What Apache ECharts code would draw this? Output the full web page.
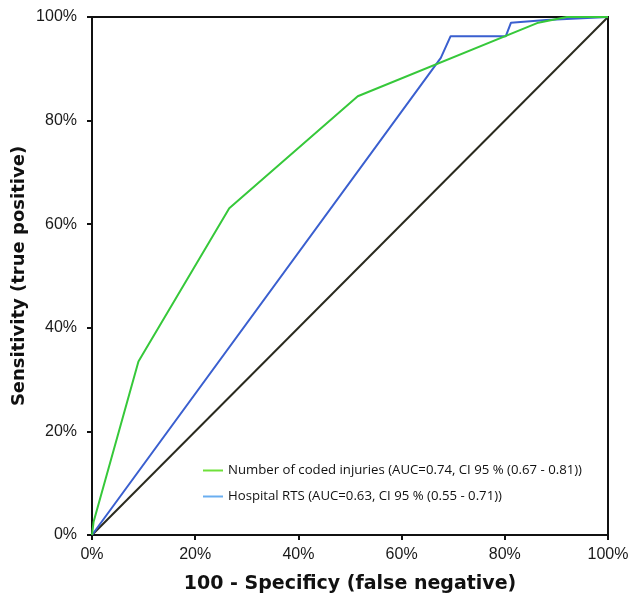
<!DOCTYPE html>
<html><head><meta charset="utf-8">
<script src="https://cdn.jsdelivr.net/npm/echarts@6/dist/echarts.min.js"></script>
<style>html,body{margin:0;padding:0;background:#fff}#c{width:629px;height:601px}</style>
</head><body><div id="c"></div>
<script>
const xTicks = [0, 20, 40, 60, 80, 100];
const yTicks = [0, 20, 40, 60, 80, 100];
const seriesNames = ['Number of coded injuries (AUC=0.74, CI 95 % (0.67 - 0.81))', 'Hospital RTS (AUC=0.63, CI 95 % (0.55 - 0.71))'];
const codedInjuries = [[0, 0], [0.3, 2.5], [9.0, 33.5], [26.6, 63.1], [51.5, 84.7], [86.5, 98.9], [92, 100], [100, 100]];
const hospitalRTS = [[0, 0], [67.6, 92.1], [69.5, 96.3], [80.2, 96.3], [81.2, 98.9], [88, 99.4], [100, 100]];
const reference = [[0, 0], [100, 100]];

const chart = echarts.init(document.getElementById('c'));
const labelStyle = {color: '#1a1a1a', fontSize: 16, fontFamily: 'Liberation Sans, Arial'};
const axisCommon = {
  type: 'value', min: 0, max: 100, interval: 20,
  axisLine: {show: true, lineStyle: {color: '#111', width: 2}},
  axisTick: {show: true, length: 5, lineStyle: {color: '#111', width: 2}},
  splitLine: {show: false}
};
chart.setOption({
  animation: false,
  grid: {left: 92, right: 21, top: 17, bottom: 66, containLabel: false, outerBoundsMode: 'none', show: true, borderColor: '#111', borderWidth: 2},
  xAxis: Object.assign({}, axisCommon, {
    name: '100 - Specificy (false negative)', nameLocation: 'middle', nameGap: 40, nameMoveOverlap: false,
    nameTextStyle: {fontSize: 19, fontWeight: 'bold', color: '#111', fontFamily: 'DejaVu Sans'},
    axisLabel: Object.assign({}, labelStyle, {formatter: v => xTicks.includes(v) ? v + '%' : '', margin: 12})
  }),
  yAxis: Object.assign({}, axisCommon, {
    name: 'Sensitivity (true positive)', nameLocation: 'middle', nameGap: 64, nameMoveOverlap: false,
    nameTextStyle: {fontSize: 18, fontWeight: 'bold', color: '#111', fontFamily: 'DejaVu Sans'},
    axisLabel: Object.assign({}, labelStyle, {formatter: v => yTicks.includes(v) ? v + '%' : '', margin: 15})
  }),
  legend: {
    orient: 'vertical', left: 198, top: 459, itemGap: 13, itemWidth: 20, itemHeight: 2, icon: 'rect',
    textStyle: {fontSize: 13.2, color: '#111', fontFamily: 'Open Sans'},
    data: [
      {name: seriesNames[0], itemStyle: {color: '#6fe03a'}},
      {name: seriesNames[1], itemStyle: {color: '#6aaef0'}}
    ]
  },
  series: [
    {name: 'ref', type: 'line', data: reference, showSymbol: false, lineStyle: {color: '#2a2a1e', width: 2}, z: 1},
    {name: seriesNames[1], type: 'line', data: hospitalRTS, showSymbol: false, color: '#3a5fcf', lineStyle: {color: '#3a5fcf', width: 2}, z: 2},
    {name: seriesNames[0], type: 'line', data: codedInjuries, showSymbol: false, color: '#36c83a', lineStyle: {color: '#36c83a', width: 2}, z: 3}
  ]
});
</script></body></html>
